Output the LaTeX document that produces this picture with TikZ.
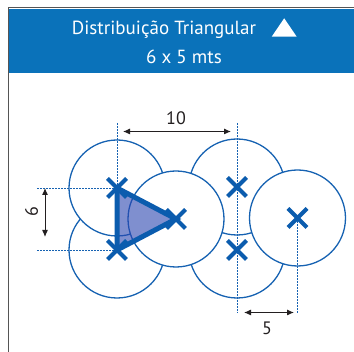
\documentclass[tikz,border=0pt]{standalone}
\usepackage{fontspec}
\setmainfont{PT Sans}
\usetikzlibrary{arrows.meta}
\definecolor{hdrblue}{HTML}{0A72BA}
\definecolor{lineblue}{HTML}{1662B2}
\definecolor{xblue}{HTML}{0B5CAE}
\definecolor{tribl}{HTML}{2A45B0}
\definecolor{dimgray}{HTML}{231F20}
\definecolor{framegray}{HTML}{555555}
\tikzset{
  circ/.style={circle, draw=lineblue, line width=1.3pt, fill=white, minimum size=96pt, inner sep=0pt},
  xmark/.style={draw=xblue, line width=4.2pt},
  guide/.style={draw=lineblue, line width=0.9pt, dash pattern=on 2pt off 1pt},
  dimline/.style={draw=dimgray, line width=1pt, {Latex[length=7pt,width=6pt]}-{Latex[length=7pt,width=6pt]}},
  dimlabel/.style={text=dimgray, font=\fontsize{18}{20}\selectfont, inner sep=0pt},
  hdrtext/.style={text=white, font=\fontsize{19}{22}\selectfont, inner sep=0pt, anchor=base}
}
\begin{document}
\begin{tikzpicture}[x=1pt,y=-1pt]
\useasboundingbox (0,0) rectangle (354,352);
% frame and header
\draw[framegray, line width=1pt] (8.5,7.5) rectangle (370,370);
\fill[hdrblue] (9,9) rectangle (370,73);
\node[hdrtext] (t1) at (164,35) {Distribuição Triangular};
\coordinate (triL) at (271.7,36.7);
\coordinate (triR) at (296.7,36.7);
\coordinate (triT) at (284.2,18.3);
\fill[white] (triL) -- (triR) -- (triT) -- cycle;
\node[hdrtext] (t2) at (184,64) {6 x 5 mts};
% circles (back to front)
\node[circ] (cB) at (117,250) {};
\node[circ] (cA) at (117,188) {};
\node[circ] (cE) at (237,250) {};
\node[circ] (cD) at (237,187) {};
\node[circ] (cC) at (176,219) {};
\node[circ] (cF) at (297.5,218) {};
% guides
\coordinate (gA) at (117,123);
\coordinate (gD) at (237,123);
\coordinate (gE) at (237,313);
\coordinate (gF) at (297.5,313);
\coordinate (hA) at (37,188);
\coordinate (hB) at (37,250);
\draw[guide] (gA) -- (cA.center);
\draw[guide] (gD) -- (gE);
\draw[guide] (cF.center) -- (gF);
\draw[guide] (hA) -- (cA.center);
\draw[guide] (hB) -- (cB.center);
% triangle
\filldraw[fill=tribl, fill opacity=0.6, draw=xblue, line width=5pt, line join=miter]
  (cA.center) -- (cC.center) -- (cB.center) -- cycle;
% crosses
\foreach \c in {cA,cB,cC,cD,cE,cF}{
  \draw[xmark] ([shift={(-9.5,-9.5)}]\c.center) -- ([shift={(9.5,9.5)}]\c.center);
  \draw[xmark] ([shift={(-9.5,9.5)}]\c.center) -- ([shift={(9.5,-9.5)}]\c.center);
}
% dimensions
\coordinate (d10a) at (123,131.5);
\coordinate (d10b) at (231,131.5);
\draw[dimline] (d10a) -- (d10b);
\node[dimlabel] (l10) at (176,118) {10};
\coordinate (d6a) at (45,188);
\coordinate (d6b) at (45,237);
\draw[dimline] (d6a) -- (d6b);
\node[dimlabel, rotate=90] (l6) at (31.5,212) {6};
\coordinate (d5a) at (244,312.5);
\coordinate (d5b) at (294,312.5);
\draw[dimline] (d5a) -- (d5b);
\node[dimlabel] (l5) at (267,328) {5};
\end{tikzpicture}
\end{document}
